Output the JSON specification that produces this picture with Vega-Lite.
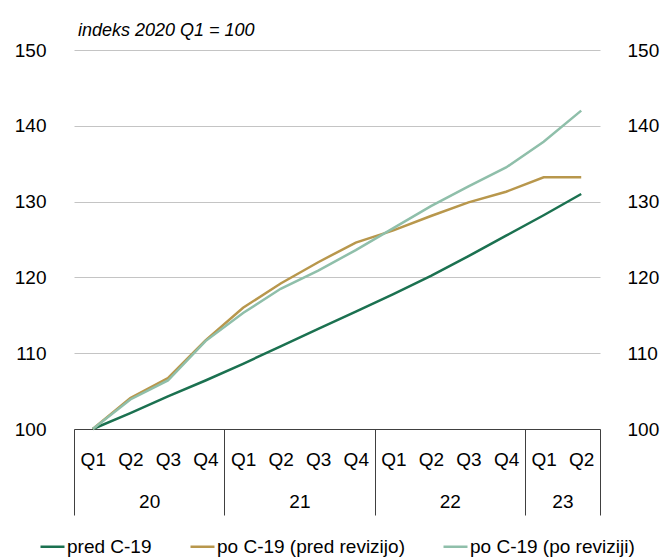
{
  "$schema": "https://vega.github.io/schema/vega-lite/v6.json",
  "width": 526,
  "height": 379,
  "autosize": "none",
  "padding": {"left": 74, "top": 50, "right": 63, "bottom": 129},
  "background": "white",
  "config": {
    "font": "Liberation Sans",
    "view": {"stroke": null},
    "axis": {"labelColor": "#000000", "labelFont": "Liberation Sans", "titleColor": "#000"}
  },
  "title": {
    "text": "indeks 2020 Q1 = 100",
    "anchor": "start",
    "frame": "group",
    "fontStyle": "italic",
    "fontWeight": "normal",
    "fontSize": 18,
    "color": "#000000",
    "offset": 1,
    "dx": 4
  },
  "data": {
    "values": [
      {"idx": 0, "series": "pred C-19", "value": 100},
      {"idx": 1, "series": "pred C-19", "value": 102.1},
      {"idx": 2, "series": "pred C-19", "value": 104.3},
      {"idx": 3, "series": "pred C-19", "value": 106.4},
      {"idx": 4, "series": "pred C-19", "value": 108.6},
      {"idx": 5, "series": "pred C-19", "value": 110.9},
      {"idx": 6, "series": "pred C-19", "value": 113.2},
      {"idx": 7, "series": "pred C-19", "value": 115.5},
      {"idx": 8, "series": "pred C-19", "value": 117.8},
      {"idx": 9, "series": "pred C-19", "value": 120.2},
      {"idx": 10, "series": "pred C-19", "value": 122.8},
      {"idx": 11, "series": "pred C-19", "value": 125.5},
      {"idx": 12, "series": "pred C-19", "value": 128.2},
      {"idx": 13, "series": "pred C-19", "value": 131.0},
      {"idx": 0, "series": "po C-19 (pred revizijo)", "value": 100},
      {"idx": 1, "series": "po C-19 (pred revizijo)", "value": 104.1},
      {"idx": 2, "series": "po C-19 (pred revizijo)", "value": 106.7},
      {"idx": 3, "series": "po C-19 (pred revizijo)", "value": 111.7},
      {"idx": 4, "series": "po C-19 (pred revizijo)", "value": 116.0},
      {"idx": 5, "series": "po C-19 (pred revizijo)", "value": 119.2},
      {"idx": 6, "series": "po C-19 (pred revizijo)", "value": 122.0},
      {"idx": 7, "series": "po C-19 (pred revizijo)", "value": 124.6},
      {"idx": 8, "series": "po C-19 (pred revizijo)", "value": 126.2},
      {"idx": 9, "series": "po C-19 (pred revizijo)", "value": 128.1},
      {"idx": 10, "series": "po C-19 (pred revizijo)", "value": 129.9},
      {"idx": 11, "series": "po C-19 (pred revizijo)", "value": 131.3},
      {"idx": 12, "series": "po C-19 (pred revizijo)", "value": 133.2},
      {"idx": 13, "series": "po C-19 (pred revizijo)", "value": 133.2},
      {"idx": 0, "series": "po C-19 (po reviziji)", "value": 100},
      {"idx": 1, "series": "po C-19 (po reviziji)", "value": 103.9},
      {"idx": 2, "series": "po C-19 (po reviziji)", "value": 106.4},
      {"idx": 3, "series": "po C-19 (po reviziji)", "value": 111.6},
      {"idx": 4, "series": "po C-19 (po reviziji)", "value": 115.3},
      {"idx": 5, "series": "po C-19 (po reviziji)", "value": 118.5},
      {"idx": 6, "series": "po C-19 (po reviziji)", "value": 120.9},
      {"idx": 7, "series": "po C-19 (po reviziji)", "value": 123.6},
      {"idx": 8, "series": "po C-19 (po reviziji)", "value": 126.5},
      {"idx": 9, "series": "po C-19 (po reviziji)", "value": 129.4},
      {"idx": 10, "series": "po C-19 (po reviziji)", "value": 132.0},
      {"idx": 11, "series": "po C-19 (po reviziji)", "value": 134.5},
      {"idx": 12, "series": "po C-19 (po reviziji)", "value": 137.9},
      {"idx": 13, "series": "po C-19 (po reviziji)", "value": 142.0}
    ]
  },
  "layer": [
    {
      "mark": {"type": "line", "strokeWidth": 2.5},
      "encoding": {
        "x": {
          "field": "idx",
          "type": "quantitative",
          "scale": {"domain": [-0.5, 13.5], "nice": false, "zero": false},
          "axis": {
            "orient": "bottom",
            "title": null,
            "values": [0, 1, 2, 3, 4, 5, 6, 7, 8, 9, 10, 11, 12, 13],
            "labelExpr": "['Q1','Q2','Q3','Q4'][datum.value % 4]",
            "ticks": false,
            "grid": false,
            "domain": true,
            "domainColor": "#404040",
            "domainWidth": 1,
            "labelFontSize": 19,
            "labelPadding": 21,
            "labelFlush": false,
            "labelOverlap": false
          }
        },
        "y": {
          "field": "value",
          "type": "quantitative",
          "scale": {"domain": [100, 150], "nice": false, "zero": false},
          "axis": {
            "orient": "left",
            "title": null,
            "values": [100, 110, 120, 130, 140, 150],
            "ticks": false,
            "domain": false,
            "grid": true,
            "gridColor": "#c4c4c4",
            "gridWidth": 1,
            "labelFontSize": 19,
            "labelPadding": 28
          }
        },
        "color": {
          "field": "series",
          "type": "nominal",
          "sort": null,
          "scale": {
            "domain": ["pred C-19", "po C-19 (pred revizijo)", "po C-19 (po reviziji)"],
            "range": ["#1b7150", "#b8974c", "#8fbfaa"]
          },
          "legend": {
            "title": null,
            "orient": "none",
            "direction": "horizontal",
            "legendX": -35,
            "legendY": 483,
            "symbolType": "stroke",
            "symbolStrokeWidth": 2.5,
            "symbolSize": 576,
            "labelFontSize": 19,
            "labelLimit": 0,
            "labelColor": "#000000",
            "labelOffset": 1,
            "columnPadding": 33,
            "padding": 0
          }
        }
      }
    },
    {
      "mark": {"type": "point", "opacity": 0},
      "encoding": {
        "x": {
          "field": "idx",
          "type": "quantitative",
          "axis": {
            "orient": "bottom",
            "title": null,
            "values": [-0.5, 3.5, 7.5, 11.5, 13.5],
            "labels": false,
            "ticks": true,
            "tickSize": 86,
            "tickColor": "#404040",
            "tickWidth": 1,
            "grid": false,
            "domain": false
          }
        },
        "y": {
          "field": "value",
          "type": "quantitative",
          "axis": {
            "orient": "right",
            "title": null,
            "values": [100, 110, 120, 130, 140, 150],
            "ticks": false,
            "domain": false,
            "grid": false,
            "labelFontSize": 19,
            "labelPadding": 27
          }
        }
      }
    },
    {
      "mark": {"type": "point", "opacity": 0},
      "encoding": {
        "x": {
          "field": "idx",
          "type": "quantitative",
          "axis": {
            "orient": "bottom",
            "title": null,
            "values": [1.5, 5.5, 9.5, 12.5],
            "labelExpr": "datum.value < 4 ? '20' : datum.value < 8 ? '21' : datum.value < 12 ? '22' : '23'",
            "ticks": false,
            "grid": false,
            "domain": false,
            "labelFontSize": 19,
            "labelPadding": 63,
            "labelFlush": false,
            "labelOverlap": false
          }
        },
        "y": {"field": "value", "type": "quantitative", "axis": null}
      }
    }
  ],
  "resolve": {"axis": {"x": "independent", "y": "independent"}}
}
